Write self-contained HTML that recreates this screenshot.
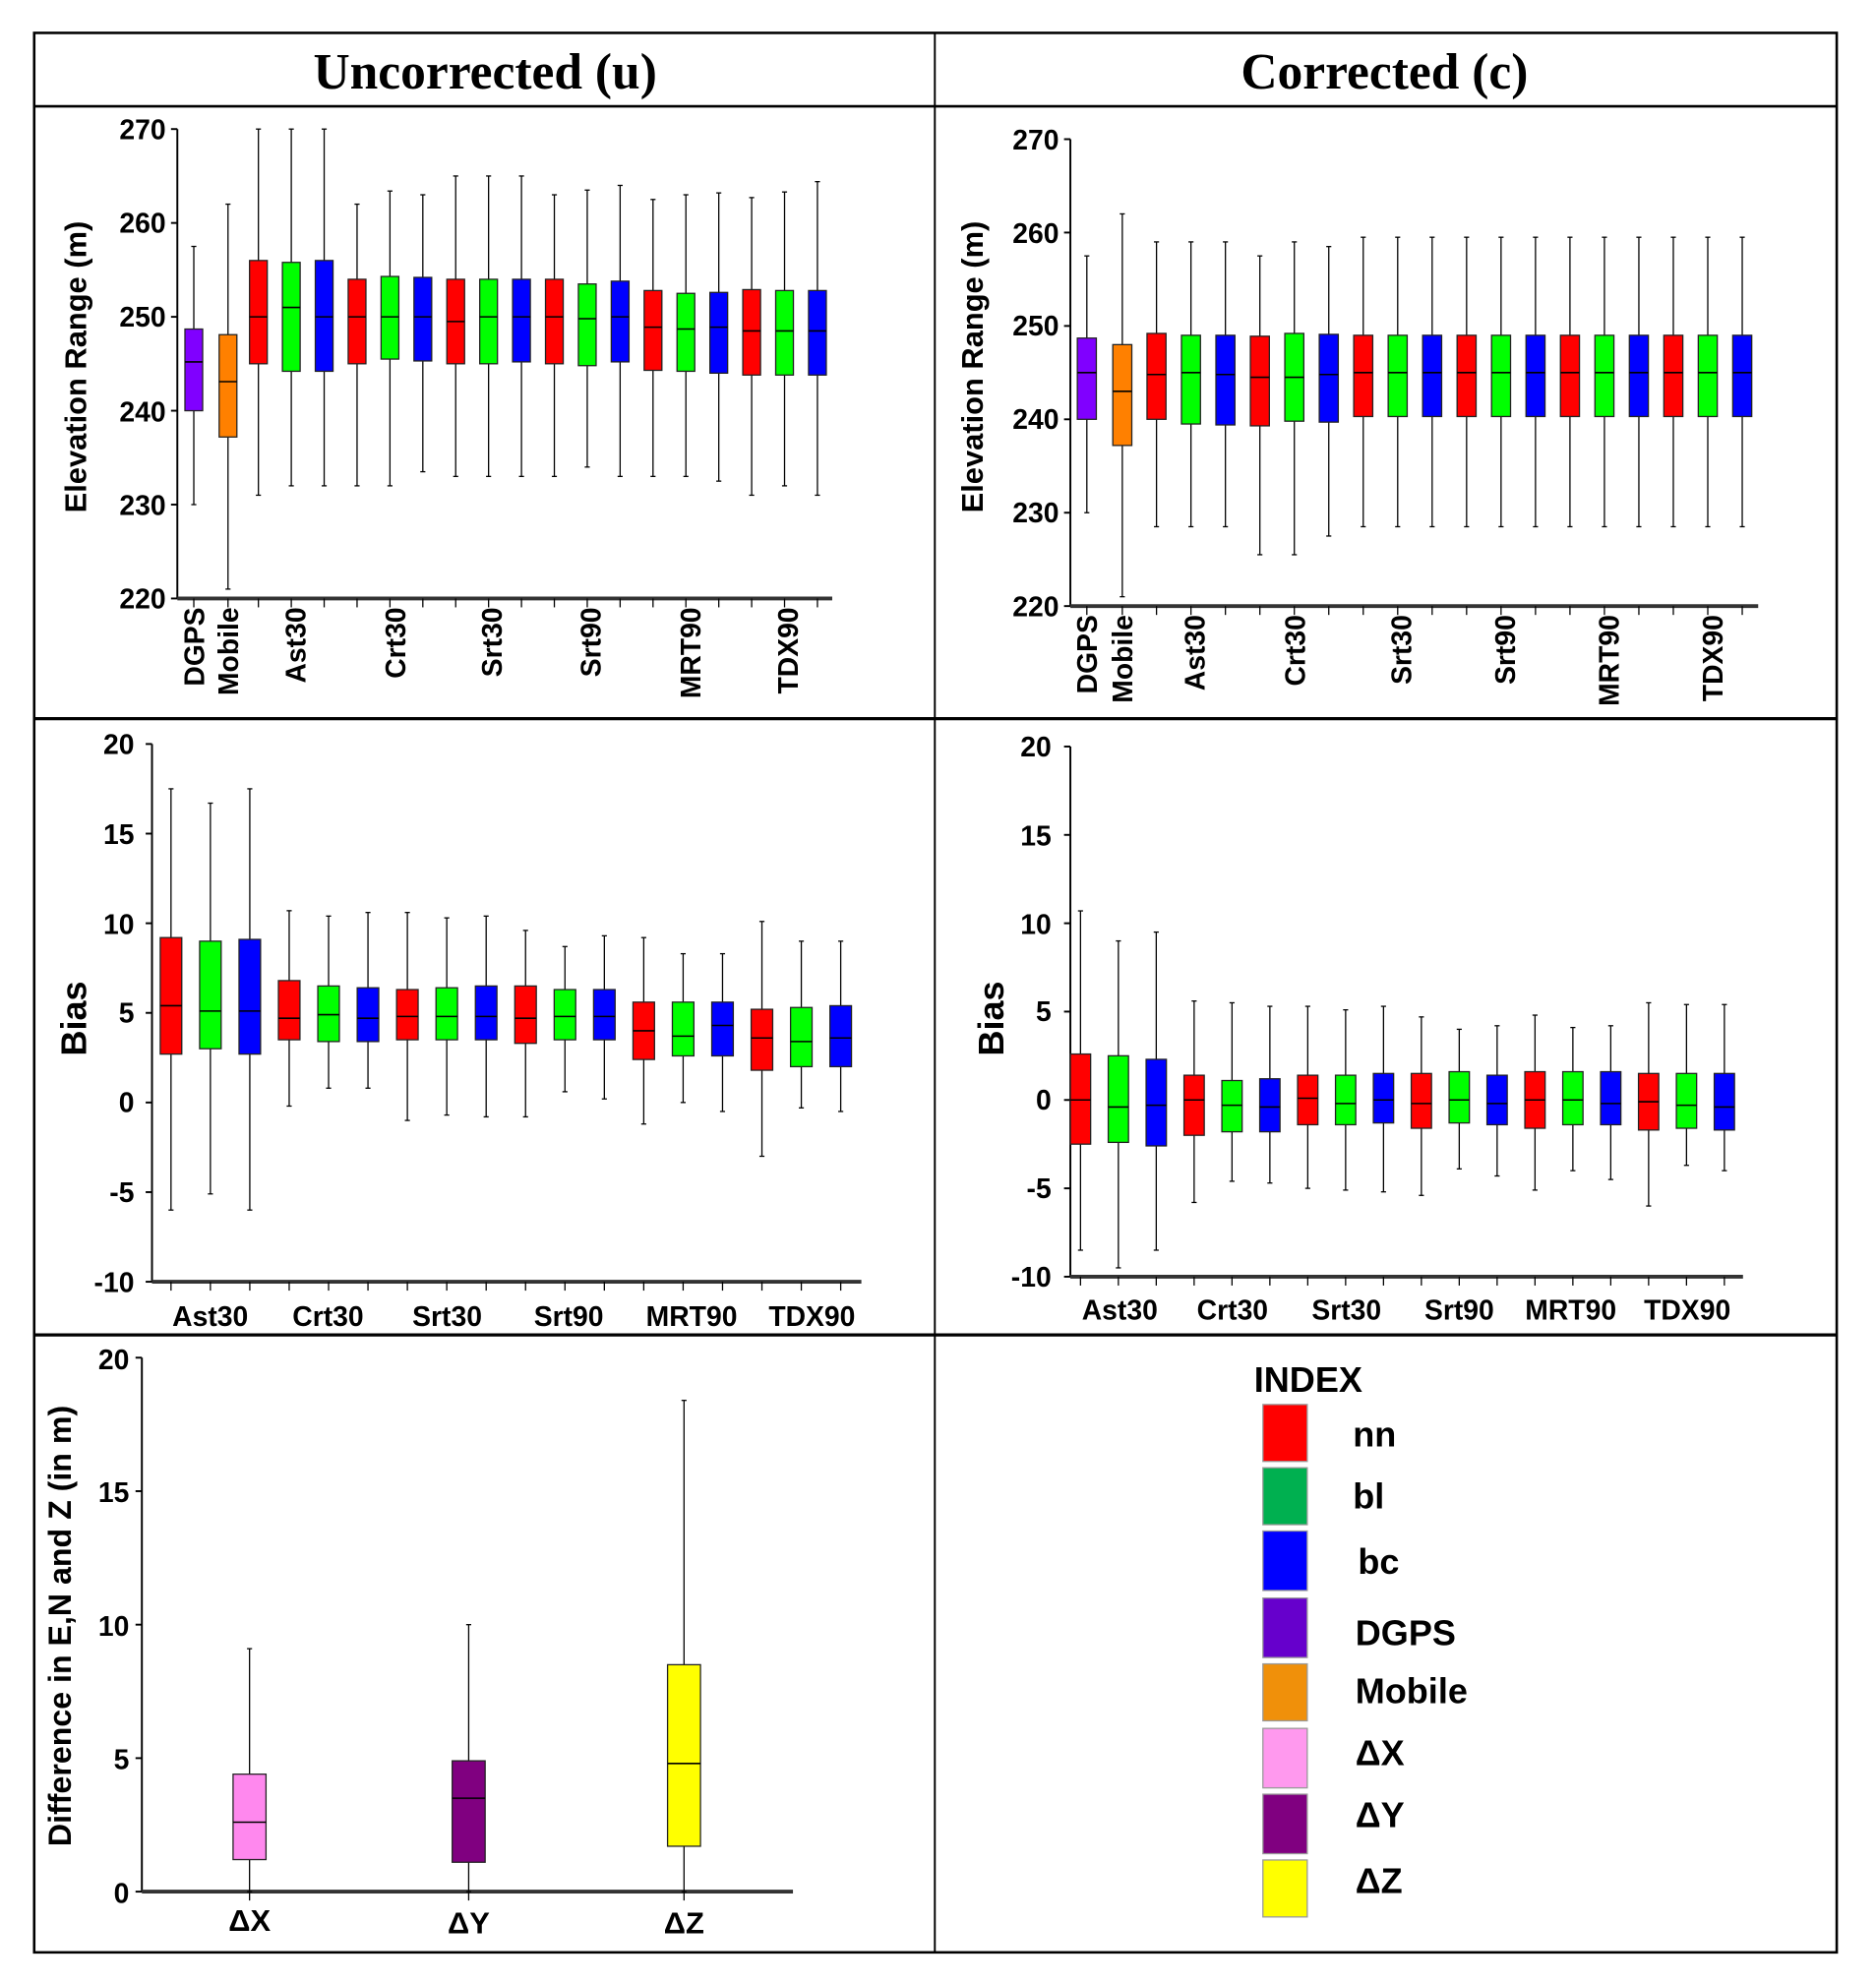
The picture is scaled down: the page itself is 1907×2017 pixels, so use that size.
<!DOCTYPE html>
<html><head><meta charset="utf-8"><style>
html,body{margin:0;padding:0;background:#fff;}
svg{display:block;}
text{font-family:"Liberation Sans",sans-serif;font-weight:bold;fill:#000;}
.hd{font-family:"Liberation Serif",serif;font-size:40px;}
.tk{font-size:22px;}
.xl{font-size:22px;}
</style></head><body>
<svg id="s" width="1907" height="2017" viewBox="0 0 1481 1568" preserveAspectRatio="none" xmlns="http://www.w3.org/2000/svg">
<rect width="1481" height="1568" fill="#fff"/>
<g stroke="#000" fill="none">
<rect x="27" y="26" width="1423" height="1517" stroke-width="2"/>
<line x1="27" y1="84" x2="1450" y2="84" stroke-width="2"/>
<line x1="27" y1="568" x2="1450" y2="568" stroke-width="2.5"/>
<line x1="27" y1="1055" x2="1450" y2="1055" stroke-width="2.5"/>
<line x1="738" y1="26" x2="738" y2="1543" stroke-width="1.5"/>
</g>
<text class="hd" x="383" y="70" text-anchor="middle">Uncorrected (u)</text>
<text class="hd" x="1093" y="70" text-anchor="middle">Corrected (c)</text>

<g id="boxes"></g>

<g class="tk" text-anchor="end">
<text x="131" y="110">270</text><text x="131" y="184">260</text><text x="131" y="258">250</text><text x="131" y="333">240</text><text x="131" y="407">230</text><text x="131" y="481">220</text>
</g>
<text x="0" y="0" font-size="24" text-anchor="middle" transform="translate(68,290) rotate(-90)">Elevation Range (m)</text>
<g class="xl" text-anchor="end">
<text transform="translate(161,480) rotate(-90)">DGPS</text>
<text transform="translate(188,480) rotate(-90)">Mobile</text>
<text transform="translate(241,480) rotate(-90)">Ast30</text>
<text transform="translate(320,480) rotate(-90)">Crt30</text>
<text transform="translate(396,480) rotate(-90)">Srt30</text>
<text transform="translate(474,480) rotate(-90)">Srt90</text>
<text transform="translate(553,480) rotate(-90)">MRT90</text>
<text transform="translate(630,480) rotate(-90)">TDX90</text>
</g>
<g class="tk" text-anchor="end">
<text x="836" y="118">270</text><text x="836" y="192">260</text><text x="836" y="265">250</text><text x="836" y="339">240</text><text x="836" y="413">230</text><text x="836" y="487">220</text>
</g>
<text font-size="24" text-anchor="middle" transform="translate(776,290) rotate(-90)">Elevation Range (m)</text>
<g class="xl" text-anchor="end">
<text transform="translate(866,486) rotate(-90)">DGPS</text>
<text transform="translate(894,486) rotate(-90)">Mobile</text>
<text transform="translate(951,486) rotate(-90)">Ast30</text>
<text transform="translate(1030,486) rotate(-90)">Crt30</text>
<text transform="translate(1114,486) rotate(-90)">Srt30</text>
<text transform="translate(1196,486) rotate(-90)">Srt90</text>
<text transform="translate(1278,486) rotate(-90)">MRT90</text>
<text transform="translate(1360,486) rotate(-90)">TDX90</text>
</g>
<g class="tk" text-anchor="end">
<text x="106" y="596">20</text><text x="106" y="667">15</text><text x="106" y="738">10</text><text x="106" y="879">0</text><text x="106" y="808">5</text><text x="106" y="950">-5</text><text x="106" y="1021">-10</text>
</g>
<text font-size="28" text-anchor="middle" transform="translate(68,805) rotate(-90)">Bias</text>
<g class="xl" text-anchor="middle">
<text x="166" y="1048">Ast30</text><text x="259" y="1048">Crt30</text><text x="353" y="1048">Srt30</text><text x="449" y="1048">Srt90</text><text x="546" y="1048">MRT90</text><text x="641" y="1048">TDX90</text>
</g>
<g class="tk" text-anchor="end">
<text x="830" y="598">20</text><text x="830" y="668">15</text><text x="830" y="738">10</text><text x="830" y="807">5</text><text x="830" y="877">0</text><text x="830" y="947">-5</text><text x="830" y="1017">-10</text>
</g>
<text font-size="28" text-anchor="middle" transform="translate(792,805) rotate(-90)">Bias</text>
<g class="xl" text-anchor="middle">
<text x="884" y="1043">Ast30</text><text x="973" y="1043">Crt30</text><text x="1063" y="1043">Srt30</text><text x="1152" y="1043">Srt90</text><text x="1240" y="1043">MRT90</text><text x="1332" y="1043">TDX90</text>
</g>
<g class="tk" text-anchor="end" font-size="24">
<text x="102" y="1082">20</text><text x="102" y="1187">15</text><text x="102" y="1293">10</text><text x="102" y="1398">5</text><text x="102" y="1504">0</text>
</g>
<text font-size="25" text-anchor="middle" transform="translate(56,1285) rotate(-90)">Difference in E,N and Z (in m)</text>
<g text-anchor="middle" font-size="24">
<text x="197" y="1526">ΔX</text><text x="370" y="1528">ΔY</text><text x="540" y="1528">ΔZ</text>
</g>
<text x="990" y="1100" font-size="28">INDEX</text>
<g stroke="#999" stroke-width="1">
<rect x="997" y="1110" width="35" height="45" fill="#ff0000"/>
<rect x="997" y="1160" width="35" height="45" fill="#00b050"/>
<rect x="997" y="1210" width="35" height="47" fill="#0000ff"/>
<rect x="997" y="1263" width="35" height="47" fill="#6600cc"/>
<rect x="997" y="1315" width="35" height="45" fill="#f0900a"/>
<rect x="997" y="1366" width="35" height="47" fill="#ff99ee"/>
<rect x="997" y="1418" width="35" height="47" fill="#800080"/>
<rect x="997" y="1470" width="35" height="45" fill="#ffff00"/>
</g>
<g font-size="28">
<text x="1068" y="1143">nn</text><text x="1068" y="1192">bl</text><text x="1072" y="1244">bc</text><text x="1070" y="1300">DGPS</text><text x="1070" y="1346">Mobile</text><text x="1070" y="1395">ΔX</text><text x="1070" y="1444">ΔY</text><text x="1070" y="1496">ΔZ</text>
</g>
</svg>
<script>
var NS="http://www.w3.org/2000/svg",G=document.getElementById("boxes");
function el(t,a){var e=document.createElementNS(NS,t);for(var k in a)e.setAttribute(k,a[k]);G.appendChild(e);return e;}
var R="#ff0000",Gn="#00ff00",B="#0000ff";
function panel(c){
 var f=function(v){return c.yb-(v-c.vmin)/(c.vmax-c.vmin)*(c.yb-c.yt);};
 el("line",{x1:c.ax,y1:c.yt,x2:c.ax,y2:c.yb,stroke:"#000","stroke-width":1.5});
 el("line",{x1:c.ax,y1:c.yb,x2:c.xe,y2:c.yb,stroke:"#333","stroke-width":3});
 c.ticks.forEach(function(v){el("line",{x1:c.ax-5,y1:f(v),x2:c.ax,y2:f(v),stroke:"#000","stroke-width":1.5});});
 c.b.forEach(function(b){var x=b[0],w=c.w;
  el("line",{x1:x,y1:f(b[6]),x2:x,y2:f(b[5]),stroke:"#000","stroke-width":1});
  el("line",{x1:x-2,y1:f(b[6]),x2:x+2,y2:f(b[6]),stroke:"#000","stroke-width":1});
  el("line",{x1:x-2,y1:f(b[5]),x2:x+2,y2:f(b[5]),stroke:"#000","stroke-width":1});
  el("rect",{x:x-w/2,y:f(b[3]),width:w,height:f(b[2])-f(b[3]),fill:b[1],stroke:"#222","stroke-width":1});
  el("line",{x1:x-w/2,y1:f(b[4]),x2:x+w/2,y2:f(b[4]),stroke:"#000","stroke-width":1.2});
  el("line",{x1:x,y1:c.yb,x2:x,y2:c.yb+7,stroke:"#000","stroke-width":1});
 });
}
var C=[R,Gn,B];
var p1=[[153,"#8000ff",240,248.7,245.2,230,257.5],[180,"#ff8000",237.2,248.1,243.1,221,262]];
var d1=[[245,256,250,231,270],[244.2,255.8,251,232,270],[244.2,256,250,232,270],[245,254,250,232,262],[245.5,254.3,250,232,263.4],[245.3,254.2,250,233.5,263],[245,254,249.5,233,265],[245,254,250,233,265],[245.2,254,250,233,265],[245,254,250,233,263],[244.8,253.5,249.8,234,263.5],[245.2,253.8,250,233,264],[244.3,252.8,248.9,233,262.5],[244.2,252.5,248.7,233,263],[244,252.6,248.9,232.5,263.2],[243.8,252.9,248.5,231,262.7],[243.8,252.8,248.5,232,263.3],[243.8,252.8,248.5,231,264.4]];
d1.forEach(function(d,i){p1.push([204+i*25.96,C[i%3]].concat(d));});
panel({ax:140,yt:102,yb:473,vmin:220,vmax:270,xe:657,w:14,b:p1,ticks:[220,230,240,250,260,270]});
var p2=[[858,"#8000ff",240,248.7,245,230,257.5],[886,"#ff8000",237.2,248,243,221,262]];
var d2=[[240,249.2,244.8,228.5,259],[239.5,249,245,228.5,259],[239.4,249,244.8,228.5,259],[239.3,248.9,244.5,225.5,257.5],[239.8,249.2,244.5,225.5,259],[239.7,249.1,244.8,227.5,258.5]];
for(var i=0;i<12;i++)d2.push([240.3,249,245,228.5,259.5]);
d2.forEach(function(d,i){p2.push([913+i*27.2,C[i%3]].concat(d));});
panel({ax:845,yt:110,yb:479,vmin:220,vmax:270,xe:1388,w:15,b:p2,ticks:[220,230,240,250,260,270]});
var d3=[[2.7,9.2,5.4,-6,17.5],[3,9,5.1,-5.1,16.7],[2.7,9.1,5.1,-6,17.5],[3.5,6.8,4.7,-0.2,10.7],[3.4,6.5,4.9,0.8,10.4],[3.4,6.4,4.7,0.8,10.6],[3.5,6.3,4.8,-1,10.6],[3.5,6.4,4.8,-0.7,10.3],[3.5,6.5,4.8,-0.8,10.4],[3.3,6.5,4.7,-0.8,9.6],[3.5,6.3,4.8,0.6,8.7],[3.5,6.3,4.8,0.2,9.3],[2.4,5.6,4,-1.2,9.2],[2.6,5.6,3.7,0,8.3],[2.6,5.6,4.3,-0.5,8.3],[1.8,5.2,3.6,-3,10.1],[2,5.3,3.4,-0.3,9],[2,5.4,3.6,-0.5,9]];
var p3=[];d3.forEach(function(d,i){p3.push([135+i*31.1,C[i%3]].concat(d));});
panel({ax:120,yt:588,yb:1013,vmin:-10,vmax:20,xe:680,w:17,b:p3,ticks:[-10,-5,0,5,10,15,20]});
var d4=[[-2.5,2.6,0,-8.5,10.7],[-2.4,2.5,-0.4,-9.5,9],[-2.6,2.3,-0.3,-8.5,9.5],[-2,1.4,0,-5.8,5.6],[-1.8,1.1,-0.3,-4.6,5.5],[-1.8,1.2,-0.4,-4.7,5.3],[-1.4,1.4,0.1,-5,5.3],[-1.4,1.4,-0.2,-5.1,5.1],[-1.3,1.5,0,-5.2,5.3],[-1.6,1.5,-0.2,-5.4,4.7],[-1.3,1.6,0,-3.9,4],[-1.4,1.4,-0.2,-4.3,4.2],[-1.6,1.6,0,-5.1,4.8],[-1.4,1.6,0,-4,4.1],[-1.4,1.6,-0.2,-4.5,4.2],[-1.7,1.5,-0.1,-6,5.5],[-1.6,1.5,-0.3,-3.7,5.4],[-1.7,1.5,-0.4,-4,5.4]];
var p4=[];d4.forEach(function(d,i){p4.push([853+i*29.9,C[i%3]].concat(d));});
panel({ax:845,yt:590,yb:1009,vmin:-10,vmax:20,xe:1376,w:16,b:p4,ticks:[-10,-5,0,5,10,15,20]});
panel({ax:112,yt:1073,yb:1495,vmin:0,vmax:20,xe:626,w:26,
 b:[[197,"#ff88ee",1.2,4.4,2.6,0,9.1],[370,"#800080",1.1,4.9,3.5,0,10],[540,"#ffff00",1.7,8.5,4.8,0,18.4]],ticks:[0,5,10,15,20]});
</script>
</body></html>
